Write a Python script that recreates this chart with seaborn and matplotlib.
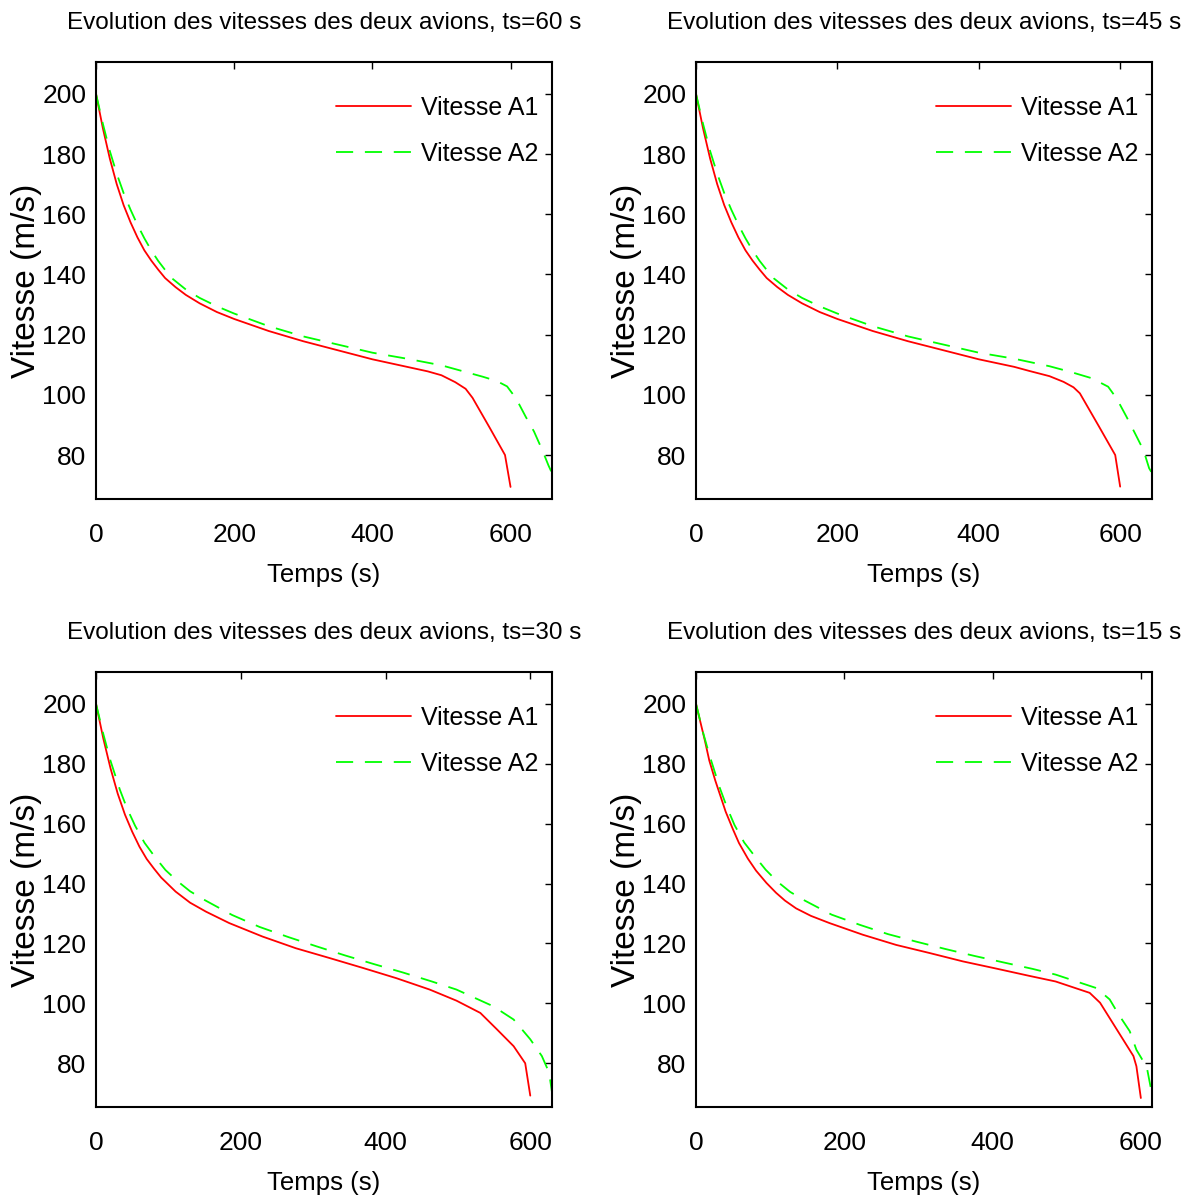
import matplotlib
matplotlib.use("Agg")
import matplotlib.pyplot as plt
import seaborn as sns
import pandas as pd

# ---------------- data ----------------
ts_values = [60, 45, 30, 15]

t_a1_60 = [0, 10, 20, 30, 40, 50, 60, 70, 80, 90, 100, 115, 130, 150, 175, 200, 250, 300, 350, 400, 450, 480, 500, 520, 535, 545, 570, 592, 600]
v_a1_60 = [200, 188.5, 178.5, 170, 163, 157.3, 152.3, 148, 144.6, 141.6, 138.8, 135.8, 133.2, 130.4, 127.5, 125.2, 121.2, 117.8, 114.8, 111.8, 109.3, 107.8, 106.5, 104.2, 102, 99, 89, 80, 69.4]
t_a2_60 = [0, 10, 20, 30, 40, 50, 60, 70, 80, 90, 100, 110, 130, 150, 175, 200, 250, 300, 350, 400, 450, 500, 530, 560, 580, 595, 608, 622, 634, 646, 655, 660]
v_a2_60 = [200, 190, 181, 173.5, 167, 161.5, 156.5, 152, 148, 144.5, 141.5, 138.7, 135, 132.2, 129.4, 127, 122.8, 119.4, 116.7, 114, 112, 109.8, 107.9, 106, 104.6, 102.8, 98.8, 92.7, 87.8, 81.6, 76.5, 74]

t_a1_45 = [0, 10, 20, 30, 40, 50, 60, 70, 80, 90, 100, 115, 130, 150, 175, 200, 250, 300, 350, 400, 450, 472, 500, 520, 534, 543, 570, 593, 600]
v_a1_45 = [200, 188.5, 178.5, 170, 163, 157.3, 152.3, 148, 144.6, 141.6, 138.8, 135.8, 133.2, 130.4, 127.5, 125.2, 121.2, 117.8, 114.8, 111.8, 109.3, 107.9, 106.2, 104.3, 102.5, 100.5, 89.5, 80, 69.5]
t_a2_45 = [0, 10, 20, 30, 40, 50, 60, 70, 80, 90, 100, 110, 130, 150, 175, 200, 250, 300, 350, 400, 450, 500, 530, 560, 583, 595, 609, 621, 633, 641, 645]
v_a2_45 = [200, 190, 181, 173.5, 167, 161.5, 156.5, 152, 148, 144.5, 141.5, 138.7, 135, 132.2, 129.4, 127, 122.8, 119.4, 116.7, 114, 112, 109.5, 107.6, 105.5, 102.7, 98.8, 92.7, 87.2, 81.6, 75.6, 74]

t_a1_30 = [0, 10, 20, 30, 40, 50, 60, 70, 80, 90, 110, 130, 152, 184, 230, 276, 323, 369, 415, 461, 498, 531, 554, 577, 593, 600]
v_a1_30 = [200, 188.5, 178.5, 170, 163, 157.3, 152.3, 148.2, 145, 142, 137.3, 133.6, 130.6, 126.8, 122.3, 118.4, 115.1, 111.8, 108.4, 104.6, 100.9, 96.8, 91.3, 85.7, 80, 69.2]
t_a2_30 = [0, 10, 20, 33, 43, 54, 67, 81, 96, 113, 130, 150, 188, 226, 266, 305, 344, 384, 424, 464, 498, 549, 577, 600, 616, 626, 630]
v_a2_30 = [200, 190, 181, 171.3, 165, 159.3, 153.6, 149, 144.5, 140.7, 137.4, 134.5, 129.5, 125.5, 122.1, 119, 116, 113.1, 110.3, 107.3, 104.6, 99, 94.6, 88, 82.4, 76.9, 70.3]

t_a1_15 = [0, 12, 18, 26, 40, 50, 58, 70, 81, 95, 108, 120, 135, 155, 180, 225, 270, 315, 360, 405, 449, 485, 531, 545, 590, 594, 600]
v_a1_15 = [200, 187.7, 181, 174.4, 164, 158, 153.5, 148.3, 144.3, 140.2, 136.9, 134.3, 131.7, 129.2, 126.8, 122.9, 119.5, 116.8, 114, 111.6, 109.2, 107.3, 103.5, 100.2, 82.4, 79, 68.4]
t_a2_15 = [0, 10, 18, 32, 42, 52, 65, 79, 94, 110, 127, 146, 183, 221, 259, 297, 337, 376, 414, 454, 485, 540, 558, 570, 585, 594, 608, 613, 615]
v_a2_15 = [200, 190, 183, 172, 165.3, 159.5, 153.7, 149.2, 144.6, 140.6, 137.2, 134.4, 129.6, 126.2, 123.1, 120.6, 118.1, 115.8, 113.7, 111.5, 109.6, 105.1, 101.3, 96.3, 90.7, 84.5, 78.7, 72.3, 71]

panels = [
    (t_a1_60, v_a1_60, t_a2_60, v_a2_60),
    (t_a1_45, v_a1_45, t_a2_45, v_a2_45),
    (t_a1_30, v_a1_30, t_a2_30, v_a2_30),
    (t_a1_15, v_a1_15, t_a2_15, v_a2_15),
]

x_ticks = [0, 200, 400, 600]
y_ticks = [80, 100, 120, 140, 160, 180, 200]
y_limits = (65.4, 210.6)
labels = ["Vitesse A1", "Vitesse A2"]
title_fmt = "Evolution des vitesses des deux avions, ts={} s"
xlabel = "Temps (s)"
ylabel = "Vitesse (m/s)"

# ---------------- style ----------------
sns.set_theme(style="white")
fam = ["Liberation Sans", "DejaVu Sans"]
plt.rcParams["font.family"] = fam

fig = plt.figure(figsize=(11.94, 12.0), dpi=100)
W = 0.3819
positions = [
    (0.0804, 0.5842, W, 0.3642),
    (0.5829, 0.5842, W, 0.3642),
    (0.0804, 0.0775, W, 0.3625),
    (0.5829, 0.0775, W, 0.3625),
]

for (ta1, va1, ta2, va2), ts, pos in zip(panels, ts_values, positions):
    ax = fig.add_axes(pos)
    d1 = pd.DataFrame({"t": ta1, "v": va1})
    d2 = pd.DataFrame({"t": ta2, "v": va2})
    sns.lineplot(data=d1, x="t", y="v", ax=ax, color=(1, 0, 0), linewidth=1.3,
                 label=labels[0], errorbar=None)
    sns.lineplot(data=d2, x="t", y="v", ax=ax, color=(0, 1, 0), linewidth=1.3,
                 linestyle=(0, (9.5, 6.5)), label=labels[1], errorbar=None)
    ax.set_xlim(0, 600 + ts)
    ax.set_ylim(*y_limits)
    ax.set_xticks(x_ticks)
    ax.set_yticks(y_ticks)
    ax.tick_params(direction="in", top=True, right=True, length=5, width=1.0,
                   color="black", labelsize=19, labelcolor="black")
    ax.tick_params(axis="x", pad=17)
    ax.tick_params(axis="y", pad=7)
    for sp in ax.spines.values():
        sp.set_color("black")
        sp.set_linewidth(1.5)
    ax.set_xlabel(xlabel, fontsize=18.5, color="black", labelpad=12)
    ax.set_ylabel(ylabel, fontsize=24, color="black", labelpad=0)
    ax.set_title(title_fmt.format(ts), fontsize=17.5, color="black", pad=24)
    leg = ax.legend(loc="upper right", frameon=False, fontsize=18,
                    handlelength=3.0, handletextpad=0.4, labelspacing=0.9,
                    bbox_to_anchor=(0.987, 0.94), borderaxespad=0.0, borderpad=0.3)
    for txt in leg.get_texts():
        txt.set_color("black")

fig.savefig("out.png", dpi=100)
